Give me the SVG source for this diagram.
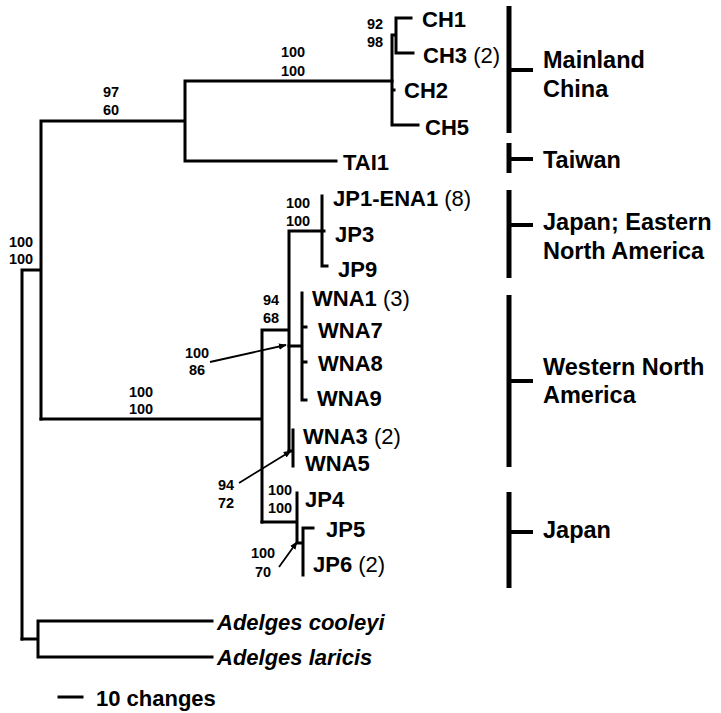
<svg xmlns="http://www.w3.org/2000/svg" width="721" height="713" viewBox="0 0 721 713">
<style>
.br{fill:none;stroke:#000;stroke-width:3;stroke-linecap:square}
.ar{stroke:#000;stroke-width:1.8;fill:none}
.bar{stroke:#000;stroke-width:5;fill:none}
.tick{stroke:#000;stroke-width:4;fill:none}
.tx{font-family:"Liberation Sans",Arial,sans-serif;font-weight:bold;font-size:22px;fill:#000}
.n{font-weight:normal}
.it{font-style:italic}
.bs{font-family:"Liberation Sans",Arial,sans-serif;font-weight:bold;font-size:14.5px;fill:#000;text-anchor:middle}
.rg{font-family:"Liberation Sans",Arial,sans-serif;font-weight:bold;font-size:23.5px;fill:#000}
</style>
<defs>
<marker id="ah" viewBox="0 0 10 10" refX="9" refY="5" markerWidth="8" markerHeight="8" orient="auto" markerUnits="userSpaceOnUse">
<path d="M0,1 L10,5 L0,9 z" fill="#000"/>
</marker>
</defs>
<rect width="721" height="713" fill="#fff"/>
<g id="connectors">
<path class="br" d="M22,270 V639 M22,270 H41 M41,121 V419 M41,121 H185 M185,81 V161 M185,81 H392 M185,161 H336"/>
<path class="br" d="M392,35 V125 M392,35 H396 M396,18 V53 M396,18 H411 M396,53 H413 M392,90 H394 M392,125 H418"/>
<path class="br" d="M41,419 H262 M262,330 V522 M262,330 H289 M289,231 V451 M289,231 H322 M322,196 V266 M322,231 H324 M322,266 H327"/>
<path class="br" d="M289,346 H302 M302,293 V400 M302,327 H306 M302,362 H306 M302,400 H306"/>
<path class="br" d="M289,451 H293 M293,430 V466"/>
<path class="br" d="M262,522 H297 M297,493 V543 M297,543 H303 M303,528 V575 M303,528 H313"/>
<path class="br" d="M22,639 H38 M38,621 V657 M38,621 H212 M38,657 H212"/>
<path class="br" d="M59,697 H82"/>
<line class="ar" x1="210" y1="362" x2="286" y2="345" marker-end="url(#ah)"/>
<line class="ar" x1="239" y1="483" x2="291" y2="451" marker-end="url(#ah)"/>
<line class="ar" x1="279" y1="567" x2="297" y2="542" marker-end="url(#ah)"/>
</g>
<g id="taxa">
<text class="tx" x="422" y="27">CH1</text>
<text class="tx" x="423" y="63">CH3 <tspan class="n">(2)</tspan></text>
<text class="tx" x="404" y="98">CH2</text>
<text class="tx" x="425" y="135">CH5</text>
<text class="tx" x="343" y="170">TAI1</text>
<text class="tx" x="333" y="206">JP1-ENA1 <tspan class="n">(8)</tspan></text>
<text class="tx" x="335" y="242">JP3</text>
<text class="tx" x="338" y="277">JP9</text>
<text class="tx" x="312" y="306">WNA1 <tspan class="n">(3)</tspan></text>
<text class="tx" x="318" y="338">WNA7</text>
<text class="tx" x="318" y="371">WNA8</text>
<text class="tx" x="317" y="406">WNA9</text>
<text class="tx" x="303" y="444">WNA3 <tspan class="n">(2)</tspan></text>
<text class="tx" x="305" y="471">WNA5</text>
<text class="tx" x="305" y="507">JP4</text>
<text class="tx" x="326" y="537">JP5</text>
<text class="tx" x="313" y="572">JP6 <tspan class="n">(2)</tspan></text>
<text class="tx it" x="217" y="630">Adelges cooleyi</text>
<text class="tx it" x="217" y="665">Adelges laricis</text>
<text class="tx" x="96" y="706">10 changes</text>
</g>
<g id="support">
<text class="bs" x="111" y="97">97</text><text class="bs" x="111" y="115">60</text>
<text class="bs" x="293" y="57">100</text><text class="bs" x="293" y="76">100</text>
<text class="bs" x="375" y="29">92</text><text class="bs" x="375" y="47">98</text>
<text class="bs" x="21" y="247">100</text><text class="bs" x="21" y="264">100</text>
<text class="bs" x="141" y="397">100</text><text class="bs" x="141" y="414">100</text>
<text class="bs" x="298" y="208">100</text><text class="bs" x="298" y="226">100</text>
<text class="bs" x="271" y="305">94</text><text class="bs" x="271" y="323">68</text>
<text class="bs" x="197" y="358">100</text><text class="bs" x="197" y="375">86</text>
<text class="bs" x="226" y="490">94</text><text class="bs" x="226" y="508">72</text>
<text class="bs" x="280" y="495">100</text><text class="bs" x="280" y="513">100</text>
<text class="bs" x="263" y="558">100</text><text class="bs" x="263" y="577">70</text>
</g>
<g id="region-mainland-china">
<path class="bar" d="M509,6 V133"/><path class="tick" d="M509,70 H533"/>
<text class="rg" x="543" y="68">Mainland</text><text class="rg" x="543" y="97">China</text>
</g>
<g id="region-taiwan">
<path class="bar" d="M509,143 V173"/><path class="tick" d="M509,159 H533"/>
<text class="rg" x="543" y="168">Taiwan</text>
</g>
<g id="region-japan-ena">
<path class="bar" d="M509,190 V278"/><path class="tick" d="M509,225 H533"/>
<text class="rg" x="543" y="230">Japan; Eastern</text><text class="rg" x="543" y="259">North America</text>
</g>
<g id="region-wna">
<path class="bar" d="M509,295 V467"/><path class="tick" d="M509,381 H533"/>
<text class="rg" x="543" y="375">Western North</text><text class="rg" x="543" y="403">America</text>
</g>
<g id="region-japan">
<path class="bar" d="M509,492 V588"/><path class="tick" d="M509,532 H533"/>
<text class="rg" x="543" y="538">Japan</text>
</g>
</svg>
